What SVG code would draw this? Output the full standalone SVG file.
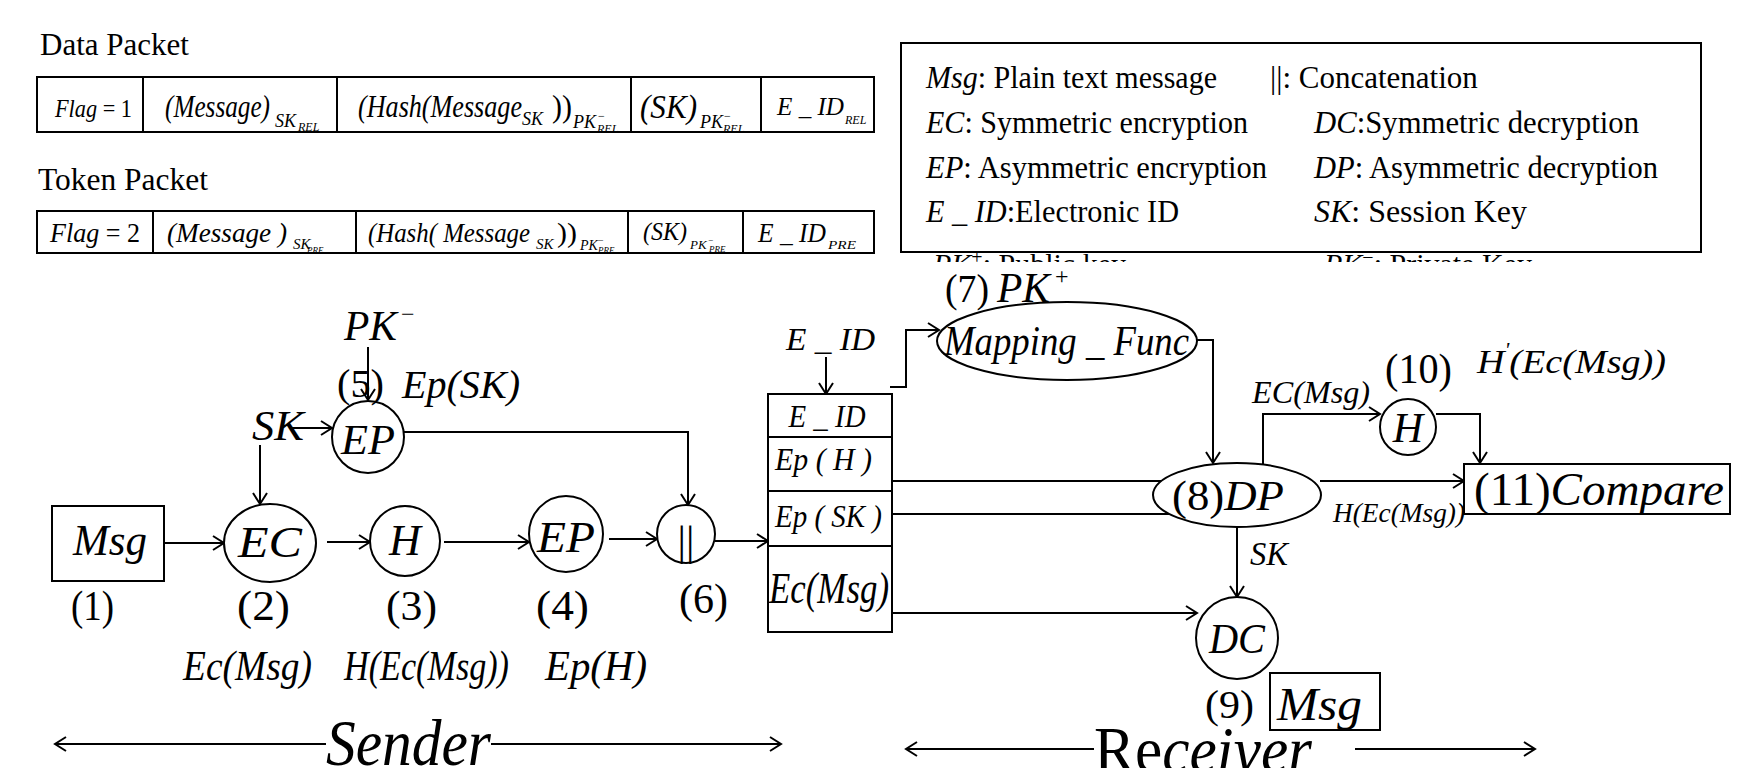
<svg xmlns="http://www.w3.org/2000/svg" width="1750" height="768" viewBox="0 0 1750 768">
<defs>
<style>
text{font-family:"Liberation Serif","Times New Roman",serif;fill:#000}
.i{font-style:italic}
.m{text-anchor:middle}
.ln{stroke:#000;stroke-width:2;fill:none}
.a{stroke:#000;stroke-width:2;fill:none;marker-end:url(#ah)}
.box{stroke:#000;stroke-width:2;fill:#fff}
</style>
<marker id="ah" markerWidth="14" markerHeight="16" refX="12" refY="8" orient="auto" markerUnits="userSpaceOnUse">
<path d="M1,1 L12,8 L1,15" fill="none" stroke="#000" stroke-width="2"/>
</marker>
<clipPath id="clipLeg"><rect x="901" y="253" width="800" height="9"/></clipPath>
</defs>
<rect width="1750" height="768" fill="#fff"/>

<g id="data-packet">
<text x="40" y="55" font-size="31">Data Packet</text>
<rect class="box" x="37" y="77" width="837" height="55"/>
<path class="ln" d="M143,77V132M337,77V132M631,77V132M761,77V132"/>
<text x="55" y="117" font-size="26" textLength="77" lengthAdjust="spacingAndGlyphs"><tspan class="i">Flag</tspan> = 1</text>
<text x="165" y="117" font-size="32" class="i" textLength="105" lengthAdjust="spacingAndGlyphs">(Message)</text>
<text x="275" y="127" font-size="18" class="i">SK</text>
<text x="298" y="131" font-size="12" class="i">REL</text>
<text x="358" y="117" font-size="32" class="i" textLength="164" lengthAdjust="spacingAndGlyphs">(Hash(Message</text>
<text x="522" y="125" font-size="18" class="i">SK</text>
<text x="552" y="117" font-size="32" textLength="20" lengthAdjust="spacingAndGlyphs">))</text>
<text x="573" y="128" font-size="18" class="i">PK</text>
<text x="598" y="120" font-size="12">−</text>
<text x="597" y="133" font-size="12" class="i">REL</text>
<text x="640" y="118" font-size="34" class="i" textLength="57" lengthAdjust="spacingAndGlyphs">(SK)</text>
<text x="700" y="128" font-size="18" class="i">PK</text>
<text x="724" y="120" font-size="12">−</text>
<text x="723" y="133" font-size="12" class="i">REL</text>
<text x="777" y="115" font-size="26" class="i" textLength="67" lengthAdjust="spacingAndGlyphs">E _ ID</text>
<text x="845" y="124" font-size="12" class="i">REL</text>
</g>

<g id="token-packet">
<text x="38" y="190" font-size="31" textLength="170" lengthAdjust="spacingAndGlyphs">Token Packet</text>
<rect class="box" x="37" y="211" width="837" height="42"/>
<path class="ln" d="M153,211V253M356,211V253M628,211V253M743,211V253"/>
<text x="50" y="242" font-size="28" textLength="90" lengthAdjust="spacingAndGlyphs"><tspan class="i">Flag</tspan> = 2</text>
<text x="167" y="242" font-size="28" class="i" textLength="120" lengthAdjust="spacingAndGlyphs">(Message )</text>
<text x="293" y="249" font-size="15" class="i">SK</text>
<text x="307" y="253" font-size="9" class="i">PRE</text>
<text x="368" y="242" font-size="28" class="i" textLength="162" lengthAdjust="spacingAndGlyphs">(Hash( Message</text>
<text x="536" y="249" font-size="15" class="i">SK</text>
<text x="557" y="242" font-size="28" textLength="20" lengthAdjust="spacingAndGlyphs">))</text>
<text x="580" y="250" font-size="14" class="i">PK</text>
<text x="598" y="244" font-size="10">−</text>
<text x="598" y="253" font-size="9" class="i">PRE</text>
<text x="643" y="240" font-size="26" class="i" textLength="44" lengthAdjust="spacingAndGlyphs">(SK)</text>
<text x="690" y="249" font-size="13" class="i">PK</text>
<text x="708" y="243" font-size="9">−</text>
<text x="709" y="252" font-size="9" class="i">PRE</text>
<text x="758" y="242" font-size="28" class="i" textLength="68" lengthAdjust="spacingAndGlyphs">E _ ID</text>
<text x="828" y="249" font-size="13" class="i" textLength="28" lengthAdjust="spacingAndGlyphs">PRE</text>
</g>

<g id="legend">
<rect class="box" x="901" y="43" width="800" height="209"/>
<text x="926" y="88" font-size="31" textLength="291" lengthAdjust="spacingAndGlyphs"><tspan class="i">Msg</tspan>: Plain text message</text>
<text x="1270" y="88" font-size="31">||: Concatenation</text>
<text x="926" y="133" font-size="31" textLength="322" lengthAdjust="spacingAndGlyphs"><tspan class="i">EC</tspan>: Symmetric encryption</text>
<text x="1314" y="133" font-size="31" textLength="325" lengthAdjust="spacingAndGlyphs"><tspan class="i">DC</tspan>:Symmetric decryption</text>
<text x="926" y="178" font-size="31" textLength="341" lengthAdjust="spacingAndGlyphs"><tspan class="i">EP</tspan>: Asymmetric encryption</text>
<text x="1314" y="178" font-size="31" textLength="344" lengthAdjust="spacingAndGlyphs"><tspan class="i">DP</tspan>: Asymmetric decryption</text>
<text x="926" y="222" font-size="31" textLength="253" lengthAdjust="spacingAndGlyphs"><tspan class="i">E _ ID</tspan>:Electronic ID</text>
<text x="1314" y="222" font-size="31" textLength="213" lengthAdjust="spacingAndGlyphs"><tspan class="i">SK</tspan>: Session Key</text>
<g clip-path="url(#clipLeg)">
<text x="933" y="274" font-size="30"><tspan class="i">PK</tspan><tspan font-size="20" dy="-10">+</tspan><tspan dy="10">: Public key</tspan></text>
<text x="1324" y="274" font-size="30"><tspan class="i">PK</tspan><tspan font-size="20" dy="-10">−</tspan><tspan dy="10">: Private Key</tspan></text>
</g>
</g>

<g id="connectors">
<line class="a" x1="368" y1="347" x2="368" y2="400"/>
<line class="a" x1="290" y1="428" x2="332" y2="428"/>
<line class="a" x1="260" y1="445" x2="260" y2="504"/>
<line class="a" x1="164" y1="543" x2="224" y2="543"/>
<line class="a" x1="327" y1="542" x2="370" y2="542"/>
<line class="a" x1="444" y1="542" x2="529" y2="542"/>
<line class="a" x1="609" y1="539" x2="657" y2="539"/>
<path class="a" d="M404,432H688V505"/>
<line class="a" x1="715" y1="541" x2="768" y2="541"/>
<line class="a" x1="826" y1="357" x2="826" y2="394"/>
<path class="a" d="M890,387H906V330H939"/>
<path class="a" d="M1197,340H1213V463"/>
<line class="ln" x1="892" y1="481" x2="1166" y2="481"/>
<line class="ln" x1="892" y1="514" x2="1175" y2="514"/>
<line class="a" x1="1320" y1="481" x2="1464" y2="481"/>
<line class="a" x1="892" y1="613" x2="1197" y2="613"/>
<line class="a" x1="1237" y1="527" x2="1237" y2="597"/>
<path class="a" d="M1263,464V414H1380"/>
<path class="a" d="M1436,414H1480V463"/>
<line class="a" x1="326" y1="744" x2="55" y2="744"/>
<line class="a" x1="491" y1="744" x2="781" y2="744"/>
<line class="a" x1="1094" y1="749" x2="906" y2="749"/>
<line class="a" x1="1355" y1="749" x2="1535" y2="749"/>
</g>

<g id="pk-minus">
<text x="344" y="340" font-size="42" class="i" textLength="53" lengthAdjust="spacingAndGlyphs">PK</text>
<text x="401" y="322" font-size="24">−</text>
</g>
<g id="ep5">
<circle class="box" cx="368" cy="437" r="36"/>
<text x="368" y="454" font-size="42" class="i m" textLength="54" lengthAdjust="spacingAndGlyphs">EP</text>
<text x="337" y="397" font-size="40" textLength="47" lengthAdjust="spacingAndGlyphs">(5)</text>
<text x="402" y="398" font-size="40" class="i" textLength="118" lengthAdjust="spacingAndGlyphs">Ep(SK)</text>
</g>
<g id="sk-label">
<text x="252" y="440" font-size="42" class="i" textLength="52" lengthAdjust="spacingAndGlyphs">SK</text>
</g>
<g id="msg1">
<rect class="box" x="52" y="506" width="112" height="75"/>
<text x="73" y="555" font-size="44" class="i" textLength="74" lengthAdjust="spacingAndGlyphs">Msg</text>
<text x="71" y="620" font-size="42" textLength="43" lengthAdjust="spacingAndGlyphs">(1)</text>
</g>
<g id="ec">
<ellipse class="box" cx="270" cy="543" rx="46" ry="39"/>
<text x="270" y="557" font-size="44" class="i m" textLength="64" lengthAdjust="spacingAndGlyphs">EC</text>
<text x="237" y="620" font-size="42" textLength="53" lengthAdjust="spacingAndGlyphs">(2)</text>
<text x="183" y="680" font-size="42" class="i" textLength="129" lengthAdjust="spacingAndGlyphs">Ec(Msg)</text>
</g>
<g id="h3">
<ellipse class="box" cx="405" cy="541" rx="35" ry="35"/>
<text x="405" y="555" font-size="44" class="i m">H</text>
<text x="386" y="620" font-size="42" textLength="51" lengthAdjust="spacingAndGlyphs">(3)</text>
<text x="344" y="680" font-size="42" class="i" textLength="165" lengthAdjust="spacingAndGlyphs">H(Ec(Msg))</text>
</g>
<g id="ep4">
<ellipse class="box" cx="566" cy="534" rx="37" ry="38"/>
<text x="566" y="552" font-size="44" class="i m" textLength="58" lengthAdjust="spacingAndGlyphs">EP</text>
<text x="536" y="620" font-size="42" textLength="53" lengthAdjust="spacingAndGlyphs">(4)</text>
<text x="545" y="680" font-size="42" class="i" textLength="102" lengthAdjust="spacingAndGlyphs">Ep(H)</text>
</g>
<g id="concat">
<circle class="box" cx="686" cy="534" r="29"/>
<text x="686" y="555" font-size="42" class="m">||</text>
<text x="679" y="613" font-size="42" textLength="49" lengthAdjust="spacingAndGlyphs">(6)</text>
</g>

<g id="packet">
<text x="786" y="350" font-size="32" class="i" textLength="89" lengthAdjust="spacingAndGlyphs">E _ ID</text>
<rect class="box" x="768" y="394" width="124" height="238"/>
<path class="ln" d="M768,437H892M768,491H892M768,546H892"/>
<text x="827" y="427" font-size="32" class="i m" textLength="77" lengthAdjust="spacingAndGlyphs">E _ ID</text>
<text x="775" y="470" font-size="32" class="i" textLength="97" lengthAdjust="spacingAndGlyphs">Ep ( H )</text>
<text x="775" y="527" font-size="32" class="i" textLength="107" lengthAdjust="spacingAndGlyphs">Ep ( SK )</text>
<text x="769" y="603" font-size="44" class="i" textLength="120" lengthAdjust="spacingAndGlyphs">Ec(Msg)</text>
</g>

<g id="mapping">
<text x="945" y="302" font-size="40" textLength="44" lengthAdjust="spacingAndGlyphs">(7)</text>
<text x="997" y="302" font-size="42" class="i" textLength="53" lengthAdjust="spacingAndGlyphs">PK</text>
<text x="1055" y="284" font-size="24">+</text>
<ellipse class="box" cx="1067" cy="341" rx="130" ry="39"/>
<text x="944" y="355" font-size="42" class="i" textLength="245" lengthAdjust="spacingAndGlyphs">Mapping _ Func</text>
</g>

<g id="dp">
<ellipse class="box" cx="1237" cy="495" rx="84" ry="32"/>
<text x="1172" y="510" font-size="42" textLength="112" lengthAdjust="spacingAndGlyphs">(8)<tspan class="i">DP</tspan></text>
<text x="1250" y="565" font-size="34" class="i" textLength="38" lengthAdjust="spacingAndGlyphs">SK</text>
</g>

<g id="h10">
<circle class="box" cx="1408" cy="427" r="28"/>
<text x="1408" y="442" font-size="42" class="i m">H</text>
<text x="1385" y="383" font-size="42" textLength="67" lengthAdjust="spacingAndGlyphs">(10)</text>
<text x="1477" y="373" font-size="34" class="i" textLength="189" lengthAdjust="spacingAndGlyphs">H<tspan font-size="20" dy="-16">'</tspan><tspan dy="16">(Ec(Msg))</tspan></text>
<text x="1252" y="403" font-size="32" class="i" textLength="118" lengthAdjust="spacingAndGlyphs">EC(Msg)</text>
</g>

<g id="compare">
<rect class="box" x="1464" y="464" width="266" height="50"/>
<text x="1474" y="505" font-size="46" textLength="250" lengthAdjust="spacingAndGlyphs">(11)<tspan class="i">Compare</tspan></text>
<text x="1333" y="522" font-size="28" class="i" textLength="132" lengthAdjust="spacingAndGlyphs">H(Ec(Msg))</text>
</g>

<g id="dc">
<circle class="box" cx="1237" cy="638" r="41"/>
<text x="1237" y="653" font-size="42" class="i m" textLength="56" lengthAdjust="spacingAndGlyphs">DC</text>
<text x="1205" y="718" font-size="40" textLength="49" lengthAdjust="spacingAndGlyphs">(9)</text>
<rect class="box" x="1270" y="673" width="110" height="57"/>
<text x="1277" y="720" font-size="46" class="i" textLength="85" lengthAdjust="spacingAndGlyphs">Msg</text>
</g>

<g id="sender">
<text x="326" y="765" font-size="66" class="i" textLength="165" lengthAdjust="spacingAndGlyphs">Sender</text>
</g>
<g id="receiver">
<text x="1094" y="772" font-size="66" textLength="218" lengthAdjust="spacingAndGlyphs">Re<tspan class="i">ceiver</tspan></text>
</g>
</svg>
